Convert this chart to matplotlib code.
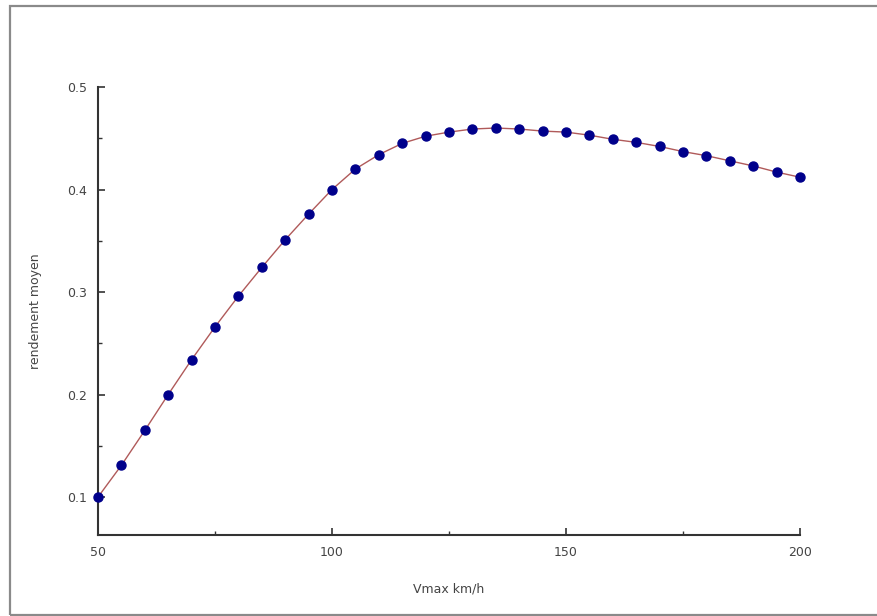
import numpy as np
import matplotlib
matplotlib.use('Agg')
import matplotlib.pyplot as plt
from matplotlib.patches import Rectangle
from matplotlib.ticker import MultipleLocator

#Dati
vmax = [50, 55, 60, 65, 70, 75, 80, 85, 90, 95, 100, 105, 110, 115, 120, 125,
        130, 135, 140, 145, 150, 155, 160, 165, 170, 175, 180, 185, 190, 195, 200]
rendement = [0.100, 0.131, 0.165, 0.200, 0.234, 0.266, 0.296, 0.324, 0.351, 0.376,
             0.400, 0.420, 0.434, 0.445, 0.452, 0.456, 0.459, 0.460, 0.459, 0.457,
             0.456, 0.453, 0.449, 0.446, 0.442, 0.437, 0.433, 0.428, 0.423, 0.417, 0.412]
x_ticks = [50, 100, 150, 200]
y_ticks = [0.1, 0.2, 0.3, 0.4, 0.5]

W, H = 877, 616

def plot_graph():
    fig = plt.figure(figsize=(W / 100, H / 100), dpi=100)
    fig.patch.set_facecolor('white')

    #Cornice grigia intorno alla figura
    frame = Rectangle((10 / W, 1 - 615 / H), 1.0, (615 - 6) / H, transform=fig.transFigure,
                      fill=False, edgecolor='#8a8a8a', linewidth=1.6)
    fig.patches.append(frame)

    #Area del grafico (in pixel: 98..800 x 87..535)
    ax = fig.add_axes([98 / W, 1 - 535 / H, (800 - 98) / W, (535 - 87) / H])
    ax.plot(vmax, rendement, '-', color='#b05a5a', linewidth=1.0, zorder=2)
    ax.plot(vmax, rendement, 'o', color='#00008b', markersize=6.5, zorder=3, clip_on=False)

    ax.set_xlim(50, 200)
    ax.set_ylim(0.063, 0.5)
    ax.set_xticks(x_ticks)
    ax.set_yticks(y_ticks)
    ax.set_yticklabels(['0.1', '0.2', '0.3', '0.4', '0.5'])
    ax.xaxis.set_minor_locator(MultipleLocator(25))
    ax.yaxis.set_minor_locator(MultipleLocator(0.05))

    for s in ['top', 'right']:
        ax.spines[s].set_visible(False)
    for s in ['left', 'bottom']:
        ax.spines[s].set_color('#333333')
        ax.spines[s].set_linewidth(1.5)

    ax.tick_params(which='major', direction='in', length=5, width=1.2, color='#333333',
                   labelsize=9, labelcolor='#444444')
    ax.tick_params(which='minor', direction='in', length=3, width=1.0, color='#333333')
    ax.tick_params(axis='y', which='major', pad=8)
    ax.tick_params(axis='x', which='major', pad=8)

    ax.set_xlabel('Vmax km/h', fontsize=9, color='#444444')
    ax.set_ylabel('rendement moyen', fontsize=9, color='#444444')
    ax.xaxis.set_label_coords(0.5, -0.105)
    ax.yaxis.set_label_coords(-0.08, 0.5)

    fig.savefig('out.png', dpi=100, facecolor='white')

if __name__ == "__main__":
    plot_graph()
